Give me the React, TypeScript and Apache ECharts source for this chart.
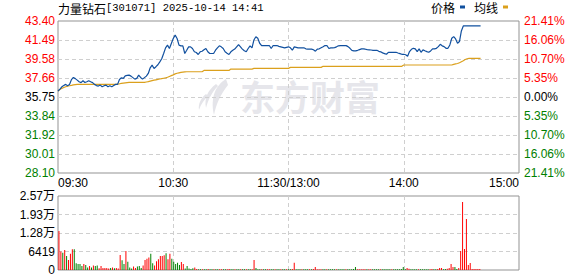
import React, { useEffect, useRef } from "react";
import * as echarts from "echarts";

// ---------- data ----------
const stockName = "力量钻石";
const titleMeta = "[301071] 2025-10-14 14:41";
const legendNames = ["价格", "均线"];

const priceTickLabels = ["28.10", "30.01", "31.92", "33.84", "35.75", "37.66", "39.58", "41.49", "43.40"];
const pctTickLabels = ["21.41%", "16.06%", "10.70%", "5.35%", "0.00%", "5.35%", "10.70%", "16.06%", "21.41%"];
const volTickLabels = ["0", "6419", "1.28万", "1.93万", "2.57万"];
const xLabelIndex = [0, 60, 120, 180, 240];
const xLabelText = ["09:30", "10:30", "11:30/13:00", "14:00", "15:00"];

const prices = [
  36.35, 36.55, 36.78, 36.90, 37.02, 36.88, 37.00, 37.50, 37.72, 37.60,
  37.45, 37.28, 37.20, 37.38, 37.21, 37.28, 37.38, 37.28, 37.20, 37.02,
  36.90, 36.85, 36.95, 36.78, 36.88, 36.95, 36.78, 36.88, 36.78, 36.90,
  37.02, 37.02, 37.52, 37.68, 37.62, 37.88, 37.92, 37.95, 37.85, 37.70,
  37.55, 37.62, 37.95, 37.72, 37.55, 37.70, 37.85, 38.12, 38.69, 38.96,
  38.62, 38.80, 39.00, 39.29, 39.60, 40.13, 40.70, 40.97, 40.63, 41.14,
  41.64, 41.98, 41.64, 40.97, 40.90, 40.90, 40.13, 40.46, 40.80, 40.80,
  40.63, 40.30, 40.23, 40.03, 40.30, 40.36, 40.50, 40.63, 40.30, 40.13,
  40.13, 40.13, 40.46, 40.70, 40.90, 40.80, 40.63, 40.30, 40.15, 40.03,
  40.30, 40.45, 40.57, 40.80, 41.03, 40.80, 40.57, 40.40, 40.30, 40.63,
  40.90, 40.70, 41.49, 41.82, 41.66, 41.16, 40.93, 40.93, 40.93, 40.93,
  40.93, 40.63, 40.93, 40.93, 40.93, 40.85, 40.80, 40.75, 40.70, 40.75,
  40.80, 40.70, 40.46, 40.80, 40.75, 40.70, 40.70, 40.70, 40.70, 40.60,
  40.57, 40.57, 40.57, 40.50, 40.36, 40.57, 40.60, 40.70, 40.80, 40.93,
  40.93, 40.63, 40.70, 40.70, 40.72, 40.80, 40.90, 40.92, 40.92, 40.92,
  40.92, 40.82, 40.65, 40.45, 40.40, 40.39, 40.45, 40.52, 40.59, 40.59,
  40.56, 40.52, 40.50, 40.48, 40.45, 40.45, 40.45, 40.35, 40.30, 40.19,
  40.12, 40.05, 40.25, 40.25, 40.25, 40.25, 40.25, 40.18, 40.12, 40.05,
  40.05, 40.00, 39.85, 40.32, 40.55, 40.65, 40.59, 40.32, 40.59, 40.25,
  40.49, 40.40, 40.32, 40.25, 40.39, 40.59, 40.59, 40.65, 40.82, 41.05,
  40.90, 40.82, 40.65, 40.65, 40.99, 41.66, 41.83, 41.59, 41.16, 41.33,
  42.40, 42.90, 42.90, 42.90, 42.90, 42.90, 42.90, 42.90, 42.90, 42.90, 42.90,
];

const avgPrices = [
  36.35, 36.50, 36.62, 36.70, 36.78, 36.85, 36.88, 36.92, 36.97, 37.00,
  37.02, 37.02, 37.02, 37.02, 37.02, 37.02, 37.02, 37.02, 37.02, 37.02,
  37.02, 37.02, 37.02, 37.02, 37.02, 37.02, 37.02, 37.02, 37.02, 37.02,
  37.02, 37.05, 37.08, 37.12, 37.15, 37.18, 37.20, 37.22, 37.22, 37.22,
  37.22, 37.22, 37.22, 37.22, 37.22, 37.22, 37.26, 37.30, 37.35, 37.40,
  37.44, 37.48, 37.52, 37.56, 37.60, 37.64, 37.68, 37.74, 37.82, 37.90,
  37.98, 38.08, 38.14, 38.18, 38.22, 38.25, 38.27, 38.29, 38.29, 38.29,
  38.29, 38.29, 38.29, 38.29, 38.29, 38.29, 38.42, 38.42, 38.42, 38.42,
  38.42, 38.42, 38.42, 38.42, 38.42, 38.42, 38.42, 38.42, 38.42, 38.42,
  38.56, 38.56, 38.56, 38.56, 38.56, 38.56, 38.56, 38.56, 38.56, 38.56,
  38.56, 38.56, 38.63, 38.63, 38.63, 38.63, 38.63, 38.63, 38.63, 38.63,
  38.63, 38.63, 38.63, 38.63, 38.63, 38.63, 38.63, 38.63, 38.63, 38.63,
  38.63, 38.73, 38.73, 38.73, 38.73, 38.73, 38.73, 38.73, 38.73, 38.73,
  38.73, 38.73, 38.73, 38.73, 38.73, 38.73, 38.73, 38.73, 38.84, 38.84,
  38.84, 38.84, 38.84, 38.84, 38.84, 38.84, 38.84, 38.84, 38.84, 38.84,
  38.84, 38.84, 38.84, 38.84, 38.84, 38.84, 38.84, 38.84, 38.84, 38.84,
  38.84, 38.84, 38.84, 38.84, 38.84, 38.84, 38.84, 38.84, 38.84, 38.84,
  38.84, 38.84, 38.84, 38.84, 38.84, 38.84, 38.84, 38.84, 38.84, 38.84,
  38.97, 38.97, 38.97, 38.97, 38.97, 38.97, 38.97, 38.97, 38.97, 38.97,
  38.97, 38.97, 38.97, 38.97, 38.97, 38.97, 38.97, 38.97, 38.97, 38.97,
  38.97, 38.97, 38.97, 38.97, 38.97, 38.97, 39.04, 39.08, 39.12, 39.20,
  39.30, 39.40, 39.52, 39.60, 39.64, 39.64, 39.64, 39.64, 39.64, 39.64, 39.64,
];

const volumes = [
  13500, 6400, 6000, 6900, 4900, 3500, 5600, 7200, 7200, 2300,
  2100, 2100, 1400, 2100, 1700, 900, 1400, 900, 1600, 1400,
  1600, 600, 1400, 700, 700, 700, 500, 700, 900, 600,
  700, 500, 5200, 3400, 2100, 6600, 2900, 900, 500, 1200,
  700, 1200, 1400, 700, 1600, 3500, 3900, 4300, 5600, 2300,
  1600, 3000, 3700, 4900, 4900, 5100, 5800, 3700, 5600, 3900,
  2900, 2100, 2500, 1700, 2800, 2100, 500, 1400, 500, 350,
  600, 900, 350, 300, 250, 300, 250, 300, 350, 250,
  300, 250, 300, 250, 300, 250, 300, 250, 300, 350,
  250, 300, 250, 300, 250, 300, 250, 300, 250, 300,
  300, 250, 3500, 700, 300, 250, 300, 250, 300, 250,
  300, 250, 300, 250, 300, 250, 300, 250, 300, 250,
  300, 250, 350, 2500, 300, 250, 300, 250, 300, 250,
  300, 250, 300, 350, 1000, 300, 250, 300, 250, 300,
  250, 300, 250, 300, 250, 300, 250, 300, 250, 300,
  250, 300, 250, 300, 350, 1000, 300, 250, 300, 250,
  300, 250, 300, 250, 300, 250, 300, 250, 300, 250,
  300, 250, 300, 250, 300, 250, 300, 250, 300, 350,
  1000, 350, 700, 400, 300, 250, 300, 250, 300, 250,
  300, 250, 300, 250, 300, 350, 250, 300, 350, 700,
  700, 300, 350, 400, 700, 2100, 1000, 1000, 350, 700,
  6600, 23600, 7300, 17700, 1700, 2400, 350, 350, 350, 350, 350,
];

// R = up (red), G = down (green)
const volDirs = [
  "RRGRGRRRGG", "GGGRGGRGRG", "GRRRRRRGRG", "RRRGGRGGGR", "RGGGRRRRGG",
  "RRRRRRGRRG", "GGGGRRGGGG", "GRRGGRGGRG", "GRGGRRGGRR", "GGRGGRGGRG",
  "GRRGGGRGGR", "RGGRGGRGGR", "GGRRGGGRGG", "GRGRRRRRGG", "RGGGGRGGGG",
  "RGGGGGRRRR", "RGRRGGGGRG", "GGGGRGGGGG", "GGRRGGGGRG", "GGGGRRGGRR",
  "RGGRRRRGGR", "RRRRRRRRRRR",
].join("");

// ---------- axis config ----------
const priceMin = 28.1;
const priceMax = 43.4;
const priceStep = 1.9125;
const volMax = 25676;
const volStep = 6419;

function buildTimes(): string[] {
  const out: string[] = [];
  const fmt = (m: number) =>
    String(Math.floor(m / 60)).padStart(2, "0") + ":" + String(m % 60).padStart(2, "0");
  for (let m = 0; m <= 120; m++) out.push(fmt(9 * 60 + 30 + m));
  for (let m = 1; m <= 120; m++) out.push(fmt(13 * 60 + m));
  return out;
}
const times = buildTimes();

const LATIN = "'Liberation Sans', 'Noto Sans CJK SC', sans-serif";
const CJK = "'Noto Sans CJK SC', sans-serif";
const RED = "#ff0000";
const GREEN = "#008000";
const BORDER = "#939393";
const DASH = "#cfcfcf";

const richColors = (size = 12) => ({
  up: { color: RED, fontSize: size, fontFamily: LATIN },
  dn: { color: GREEN, fontSize: size, fontFamily: LATIN },
  eq: { color: "#000", fontSize: size, fontFamily: LATIN },
});

const logoPath =
  "M28 0 C18 6 12 18 16 36 C18 26 22 16 30 6 Z M18 5 C10 11 6 19 8 29 C10 21 14 13 20 7 Z M8 15 C3 19 0 25 1 31 C3 25 6 21 10 17 Z";
let logoRegistered = false;

export default function App() {
  const ref = useRef<HTMLDivElement>(null);

  useEffect(() => {
    if (!ref.current) return;
    if (!logoRegistered) {
      echarts.graphic.registerShape("emlogo", echarts.graphic.extendPath(logoPath, {}) as any);
      logoRegistered = true;
    }
    const chart = echarts.init(ref.current, undefined, { renderer: "svg" });

    const priceLabel = (v: number) => {
      const k = Math.round((v - priceMin) / priceStep);
      const c = k > 4 ? "up" : k < 4 ? "dn" : "eq";
      return `{${c}|${priceTickLabels[k] ?? ""}}`;
    };
    const pctLabel = (v: number) => {
      const k = Math.round((v - priceMin) / priceStep);
      const c = k > 4 ? "up" : k < 4 ? "dn" : "eq";
      return `{${c}|${pctTickLabels[8 - k] ?? ""}}`;
    };

    const option: any = {
      animation: false,
      backgroundColor: "#fff",
      title: {
        left: 58,
        top: 2,
        padding: 0,
        text: `{n|${stockName}}{m|${titleMeta}}`,
        textStyle: {
          fontWeight: "normal",
          rich: {
            n: { fontFamily: CJK, fontSize: 12, color: "#000", fontWeight: "normal" },
            m: { fontFamily: "'Liberation Mono', monospace", fontSize: 10.5, color: "#000", fontWeight: "normal" },
          },
        },
      },
      legend: {
        data: legendNames,
        right: 70,
        top: 1,
        padding: 0,
        icon: "rect",
        itemWidth: 5,
        itemHeight: 3,
        itemGap: 9,
        align: "right",
        selectedMode: false,
        textStyle: { fontFamily: CJK, fontSize: 12, color: "#000" },
      },
      graphic: [
        {
          type: "emlogo",
          x: 198,
          y: 79,
          scaleX: 1,
          scaleY: 1,
          z: -1,
          silent: true,
          style: { fill: "#e4e4e9" },
        },
        {
          type: "text",
          x: 240,
          y: 78,
          z: -1,
          silent: true,
          style: {
            text: "东方财富",
            fill: "#e6e6eb",
            font: "bold 35px 'Noto Sans CJK SC'",
          },
        },
      ],
      grid: [
        { left: 58, right: 59, top: 21, height: 152, show: true, borderColor: BORDER, borderWidth: 1, backgroundColor: "transparent" },
        { left: 58, right: 59, top: 196, height: 74, show: true, borderColor: BORDER, borderWidth: 1, backgroundColor: "transparent" },
      ],
      xAxis: [
        {
          type: "category",
          gridIndex: 0,
          data: times,
          boundaryGap: false,
          axisLine: { show: false },
          axisTick: { show: false },
          axisLabel: {
            interval: (i: number) => xLabelIndex.includes(i),
            formatter: (_v: string, i: number) => {
              const k = xLabelIndex.indexOf(i);
              return k >= 0 ? xLabelText[k] : "";
            },
            showMinLabel: true,
            showMaxLabel: true,
            alignMinLabel: "left",
            alignMaxLabel: "right",
            margin: 4,
            color: "#000",
            fontSize: 12,
            fontFamily: LATIN,
          },
          splitLine: {
            show: true,
            interval: (i: number) => i % 60 === 0 && i > 0 && i < 240,
            lineStyle: { color: DASH, type: [4, 3], width: 1 },
          },
        },
        {
          type: "category",
          gridIndex: 1,
          data: times,
          boundaryGap: true,
          axisLine: { show: false },
          axisTick: { show: false },
          axisLabel: { show: false },
          splitLine: { show: false },
        },
        {
          type: "category",
          gridIndex: 1,
          data: times,
          boundaryGap: false,
          axisLine: { show: false },
          axisTick: { show: false },
          axisLabel: { show: false },
          splitLine: {
            show: true,
            interval: (i: number) => i % 60 === 0 && i > 0 && i < 240,
            lineStyle: { color: DASH, type: [4, 3], width: 1 },
          },
        },
      ],
      yAxis: [
        {
          type: "value",
          gridIndex: 0,
          min: priceMin,
          max: priceMax,
          interval: priceStep,
          axisLine: { show: false },
          axisTick: { show: false },
          axisLabel: { margin: 3, formatter: priceLabel, rich: richColors() },
          splitLine: {
            show: true,
            showMinLine: false,
            showMaxLine: false,
            lineStyle: { color: DASH, type: [4, 3], width: 1 },
          },
        },
        {
          type: "value",
          gridIndex: 0,
          position: "right",
          min: priceMin,
          max: priceMax,
          interval: priceStep,
          axisLine: { show: false },
          axisTick: { show: false },
          axisLabel: { margin: 5, formatter: pctLabel, rich: richColors() },
          splitLine: { show: false },
        },
        {
          type: "value",
          gridIndex: 1,
          min: 0,
          max: volMax,
          interval: volStep,
          axisLine: { show: false },
          axisTick: { show: false },
          axisLabel: {
            margin: 3,
            color: "#000",
            fontSize: 12,
            fontFamily: LATIN,
            formatter: (v: number) => volTickLabels[Math.round(v / volStep)] ?? "",
          },
          splitLine: {
            show: true,
            showMinLine: false,
            showMaxLine: false,
            lineStyle: { color: DASH, type: [4, 3], width: 1 },
          },
        },
      ],
      series: [
        {
          name: legendNames[0],
          type: "line",
          xAxisIndex: 0,
          yAxisIndex: 0,
          data: prices,
          showSymbol: false,
          symbol: "none",
          lineStyle: { color: "#11509f", width: 1.2 },
          itemStyle: { color: "#11509f" },
          z: 4,
        },
        {
          name: legendNames[1],
          type: "line",
          xAxisIndex: 0,
          yAxisIndex: 0,
          data: avgPrices,
          showSymbol: false,
          symbol: "none",
          lineStyle: { color: "#dba01c", width: 1.2 },
          itemStyle: { color: "#dba01c" },
          z: 3,
        },
        {
          name: "成交量",
          type: "bar",
          xAxisIndex: 1,
          yAxisIndex: 2,
          barWidth: 1,
          data: volumes.map((v, i) => ({
            value: v,
            itemStyle: { color: volDirs[i] === "R" ? RED : GREEN },
          })),
        },
      ],
    };

    chart.setOption(option);
    return () => chart.dispose();
  }, []);

  return (
    <div
      ref={ref}
      style={{ position: "fixed", left: 0, top: 0, width: 578, height: 276, background: "#fff" }}
    />
  );
}
